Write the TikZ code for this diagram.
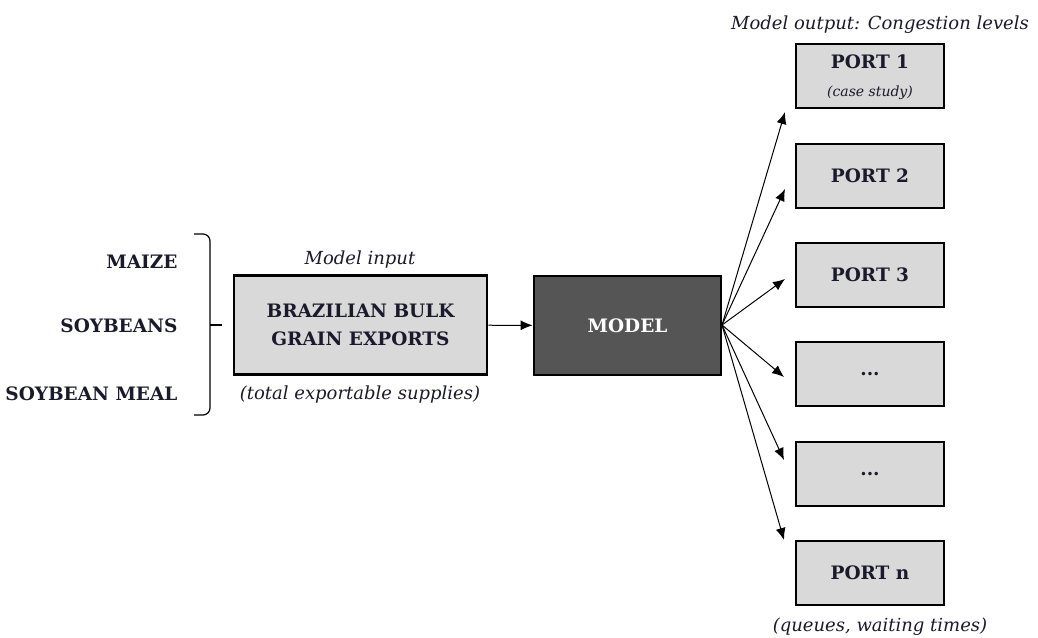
\documentclass[tikz,border=0pt]{standalone}
\usepackage{fontspec}
\setmainfont{DejaVu Serif}
\usetikzlibrary{arrows.meta}
\definecolor{boxfill}{HTML}{D9D9D9}
\definecolor{modelfill}{HTML}{555555}
\definecolor{txt}{HTML}{1A1A2A}
\begin{document}
\begin{tikzpicture}[x=1pt,y=-1pt,
  every node/.style={text=txt},
  bigfont/.style={font=\fontsize{18.5}{28}\selectfont\bfseries},
  graybox/.style={draw=black,line width=2.8pt,fill=boxfill,inner sep=0pt,bigfont,align=center},
  portbox/.style={graybox,minimum width=148pt,minimum height=64pt},
  lbl/.style={bigfont,anchor=east},
  note/.style={font=\fontsize{18}{22}\selectfont\itshape},
  conn/.style={line width=1pt,-{Latex[length=12pt,width=10pt]}}
  ]
\useasboundingbox (0,0) rectangle (1038,637);
% left labels
\node[lbl] (maize) at (181,262) {MAIZE};
\node[lbl] (soy) at (181,326) {SOYBEANS};
\node[lbl] (meal) at (181,394) {SOYBEAN MEAL};
\coordinate (bt) at (194,234);
\coordinate (bb) at (194,415);
\coordinate (btip) at (222,325);
\draw[line width=1.2pt,rounded corners=7pt] (bt) -- (210,234) -- (210,415) -- (bb);
\draw[line width=1.2pt] (210,325) -- (btip);
% input box
\node[graybox,minimum width=253pt,minimum height=99pt] (input) at (360.5,325) {BRAZILIAN BULK\\GRAIN EXPORTS};
\node[note] (inlbl) at (360,260) {Model input};
\node[note] (supp) at (360,395) {(total exportable supplies)};
% model
\node[draw=black,line width=2.8pt,fill=modelfill,minimum width=187pt,minimum height=99pt,text=white,bigfont] (model) at (627.5,325.5) {MODEL};
\draw[conn] (input) -- (model);
% ports
\node[portbox] (p1) at (870,76) {};
\node[bigfont] (p1t) at (870,62) {PORT 1};
\node[font=\fontsize{14}{16}\selectfont\itshape] (p1s) at (870,93) {(case study)};
\node[portbox] (p2) at (870,176) {PORT 2};
\node[portbox] (p3) at (870,275) {PORT 3};
\node[portbox] (p4) at (870,374) {...};
\node[portbox] (p5) at (870,474) {...};
\node[portbox] (pn) at (870,573) {PORT n};
\node[note] (outlbl) at (880,25) {Model output: Congestion levels};
\node[note] (queue) at (880,627) {(queues, waiting times)};
% arrows
\coordinate (o) at (722,325);
\coordinate (t1) at (785,112);
\coordinate (t2) at (785,189);
\coordinate (t3) at (785,279);
\coordinate (t4) at (784,377);
\coordinate (t5) at (784,460);
\coordinate (tn) at (784,540);
\foreach \t in {t1,t2,t3,t4,t5,tn} \draw[conn] (o) -- (\t);
\end{tikzpicture}
\end{document}
